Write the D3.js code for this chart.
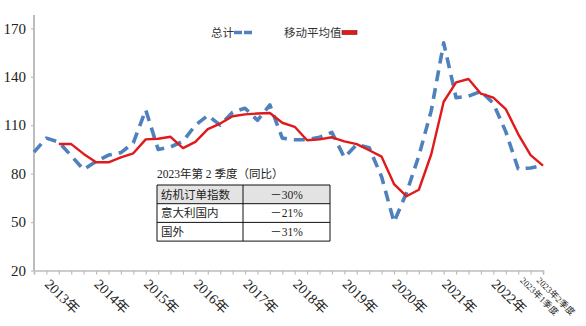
<!DOCTYPE html>
<html>
<head>
<meta charset="utf-8">
<script src="https://cdn.jsdelivr.net/npm/d3@7"></script>
<style>
  html, body { margin: 0; padding: 0; background: #fff; }
  svg { display: block; }
</style>
</head>
<body>
<svg id="chart" width="586" height="326"></svg>
<script>
const categories = [
  "2013Q1","2013Q2","2013Q3","2013Q4",
  "2014Q1","2014Q2","2014Q3","2014Q4",
  "2015Q1","2015Q2","2015Q3","2015Q4",
  "2016Q1","2016Q2","2016Q3","2016Q4",
  "2017Q1","2017Q2","2017Q3","2017Q4",
  "2018Q1","2018Q2","2018Q3","2018Q4",
  "2019Q1","2019Q2","2019Q3","2019Q4",
  "2020Q1","2020Q2","2020Q3","2020Q4",
  "2021Q1","2021Q2","2021Q3","2021Q4",
  "2022Q1","2022Q2","2022Q3","2022Q4",
  "2023Q1","2023Q2"
];
const totalValues = [
  93.3, 102, 99.5, 91, 82.5, 87.5, 91.5, 93,
  99, 119.5, 95, 96.5, 100, 110, 116, 110,
  118, 120.5, 113, 122.5, 102, 101, 101, 102.5,
  105.5, 90, 98, 96, 78, 50, 68, 91,
  119, 161, 127, 128, 131, 123.5, 106, 83,
  83.5, 85
];
const movingAvgValues = [
  null, null, 98.3, 98.3, 92.2, 87, 87, 90,
  92.6, 101.2, 101.6, 102.8, 95.8, 99.7, 107.5, 111,
  115.5, 116.7, 117.2, 117.5, 111.5, 109, 100.7, 101.2,
  102.5, 100, 98.3, 94.5, 90.5, 73.5, 66, 70,
  92, 124.5, 136.5, 138.6, 129.5, 127, 120, 104.5,
  91.5, 85
];
const yTicks = [20, 50, 80, 110, 140, 170];
const yearLabels = ["2013年","2014年","2015年","2016年","2017年","2018年","2019年","2020年","2021年","2022年"];
const yearLabelAt = ["2013Q2","2014Q2","2015Q2","2016Q2","2017Q2","2018Q2","2019Q2","2020Q2","2021Q2","2022Q2"];
const quarterLabels = ["2023年1季度","2023年2季度"];
const quarterLabelAt = ["2023Q1","2023Q2"];
const seriesNames = ["总计","移动平均值"];
const tableTitle = "2023年第 2 季度（同比）";
const tableRows = ["纺机订单指数","意大利国内","国外"];
const tableValues = ["－30%","－21%","－31%"];

const svg = d3.select("#chart");
const serif = "'Liberation Serif','Times New Roman','Noto Sans CJK SC',serif";
const sans = "'Noto Sans CJK SC','Noto Sans',sans-serif";

const x = d3.scalePoint().domain(categories).range([34, 543]);
const y = d3.scaleLinear().domain([20, 170]).range([270.5, 28.3]);

const axisColor = "#bdbdbd";

// Y axis
const yAxis = svg.append("g").attr("transform", "translate(34,0)")
  .call(d3.axisLeft(y).tickValues(yTicks).tickSize(3).tickPadding(5).tickFormat(d3.format("d")));
yAxis.select(".domain").remove();
yAxis.selectAll(".tick line").attr("stroke", axisColor).attr("stroke-width", 1.2);
yAxis.selectAll(".tick text").attr("font-family", serif).attr("font-size", 15).attr("fill", "#222");
svg.append("line").attr("x1", 34).attr("x2", 34).attr("y1", 15).attr("y2", y(20))
  .attr("stroke", axisColor).attr("stroke-width", 2);

// X axis
const xAxis = svg.append("g").attr("transform", `translate(0,${y(20)})`)
  .call(d3.axisBottom(x).tickSize(4).tickFormat(""));
xAxis.select(".domain").attr("stroke", axisColor).attr("stroke-width", 1.6);
xAxis.selectAll(".tick line").attr("stroke", axisColor).attr("stroke-width", 1.2);

// X labels
svg.append("g").selectAll("text").data(yearLabels).join("text")
  .attr("transform", (d, i) => `translate(${x(yearLabelAt[i]) - 2.5},285) rotate(45)`)
  .attr("font-family", serif).attr("font-size", 14).attr("fill", "#222")
  .text(d => d);
svg.append("g").selectAll("text").data(quarterLabels).join("text")
  .attr("transform", (d, i) => `translate(${x(quarterLabelAt[i]) - 11 + i * 4},281) rotate(45)`)
  .attr("font-family", serif).attr("font-size", 9).attr("fill", "#222")
  .text(d => d);

// Lines
const totalData = categories.map((c, i) => ({c, v: totalValues[i]}));
const maData = categories.map((c, i) => ({c, v: movingAvgValues[i]})).filter(d => d.v != null);
const line = d3.line().x(d => x(d.c)).y(d => y(d.v));

svg.append("path").datum(totalData).attr("d", line)
  .attr("fill", "none").attr("stroke", "#4f81bd").attr("stroke-width", 3.6)
  .attr("stroke-dasharray", "11,7").attr("stroke-linejoin", "round");
svg.append("path").datum(maData).attr("d", line)
  .attr("fill", "none").attr("stroke", "#e0191b").attr("stroke-width", 2.4)
  .attr("stroke-linejoin", "round");

// Legend
const lg = svg.append("g");
lg.append("text").attr("x", 211).attr("y", 36.5).attr("font-family", sans).attr("font-size", 11.5)
  .attr("fill", "#333").text(seriesNames[0]);
lg.append("line").attr("x1", 234).attr("x2", 252).attr("y1", 32.5).attr("y2", 32.5)
  .attr("stroke", "#4f81bd").attr("stroke-width", 3.6).attr("stroke-dasharray", "8,2");
lg.append("text").attr("x", 284).attr("y", 36.5).attr("font-family", sans).attr("font-size", 11.5)
  .attr("fill", "#333").text(seriesNames[1]);
lg.append("rect").attr("x", 342).attr("y", 30.5).attr("width", 15).attr("height", 4)
  .attr("fill", "#e0191b").attr("stroke", "#8b1010").attr("stroke-width", 0.6);

// Table
const tx = 157, tMid = 243, tRight = 330, tTop = 185, rowH = 18.7;
svg.append("text").attr("x", tx).attr("y", 178).attr("font-family", serif).attr("font-size", 11.5)
  .attr("fill", "#222").text(tableTitle);
const tg = svg.append("g");
tg.append("rect").attr("x", tx).attr("y", tTop).attr("width", tRight - tx).attr("height", rowH)
  .attr("fill", "#e3e3e3");
tableRows.forEach((r, i) => {
  tg.append("text").attr("x", tx + 4).attr("y", tTop + rowH * i + 13.5)
    .attr("font-family", sans).attr("font-size", 11.5).attr("fill", "#222").text(r);
  tg.append("text").attr("x", (tMid + tRight) / 2).attr("y", tTop + rowH * i + 13.5)
    .attr("text-anchor", "middle").attr("font-family", serif).attr("font-size", 11.5)
    .attr("fill", "#222").text(tableValues[i]);
});
for (let i = 0; i <= tableRows.length; i++) {
  tg.append("line").attr("x1", tx).attr("x2", tRight).attr("y1", tTop + rowH * i).attr("y2", tTop + rowH * i)
    .attr("stroke", "#111").attr("stroke-width", 1);
}
[tx, tMid, tRight].forEach(xx => {
  tg.append("line").attr("x1", xx).attr("x2", xx).attr("y1", tTop).attr("y2", tTop + rowH * tableRows.length)
    .attr("stroke", "#111").attr("stroke-width", 1);
});
</script>
</body>
</html>
